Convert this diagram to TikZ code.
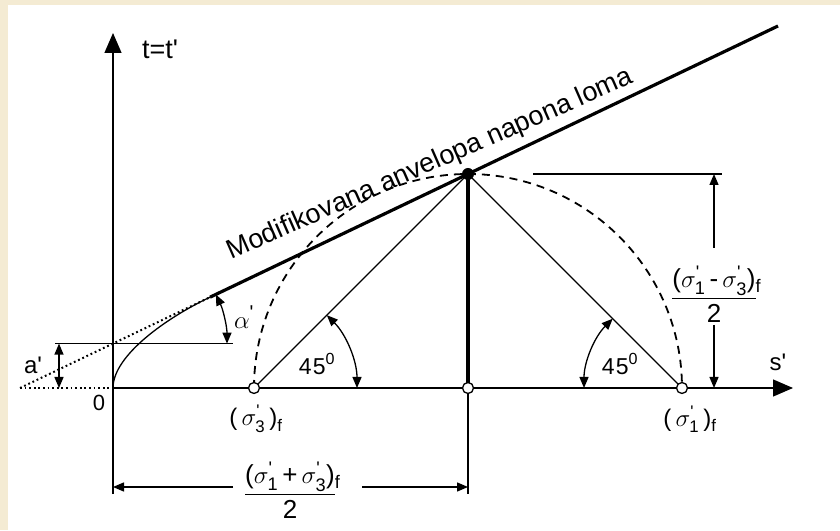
\documentclass[tikz,border=0pt]{standalone}
\usepackage{amsmath}
\usepackage{fontspec}
\setmainfont{Liberation Sans}
\usetikzlibrary{arrows.meta}
\definecolor{cream}{HTML}{F4EBD3}
\newcommand{\sg}[1]{\sigma^{\textnormal{\textquotesingle}}_{\textnormal{#1}}}
\newcommand{\fs}[1]{\fontsize{#1}{#1}\selectfont}
\begin{document}
\begin{tikzpicture}[x=1pt,y=1pt,
  thinl/.style={line width=1.3pt},
  thickl/.style={line width=3.2pt},
  dotl/.style={line width=2pt,dash pattern=on 1.8pt off 2.8pt},
  dashl/.style={line width=1.8pt,dash pattern=on 8pt off 6pt},
  axisarrow/.style={-{Triangle[length=20pt,width=17pt]}},
  dimtip/.style={-{Triangle[length=11pt,width=9pt]}},
  dimboth/.style={{Triangle[length=11pt,width=9pt]}-{Triangle[length=11pt,width=9pt]}},
  opendot/.style={circle,draw,fill=white,inner sep=0pt,minimum size=11pt,line width=1.3pt},
  fulldot/.style={circle,fill=black,inner sep=0pt,minimum size=12pt},
  lbl/.style={inner sep=0pt}]
% background
\useasboundingbox (0,0) rectangle (840,530);
\fill[white] (0,0) rectangle (840,530);
\fill[cream] (0,0) rectangle (8,530);
\fill[cream] (0,525) rectangle (840,530);
% coordinates
\coordinate (O) at (113,142);
\coordinate (Ybot) at (113,36);
\coordinate (Ytop) at (113,497);
\coordinate (Xend) at (793,142);
\coordinate (Xdot) at (20,142);
\coordinate (S3) at (254,142);
\coordinate (C) at (468,142);
\coordinate (S1) at (682,142);
\coordinate (T) at (468,356);
\coordinate (Cbot) at (468,36);
\coordinate (J) at (210,232.8);
\coordinate (E) at (778,504);
\coordinate (A) at (113,186.4);
\coordinate (Hl) at (55,186.4);
\coordinate (Hr) at (233,186.4);
\coordinate (Ad1) at (59,186.4);
\coordinate (Ad2) at (59,142);
\coordinate (AlA) at (227,186.4);
\coordinate (L45) at (357,142);
\coordinate (R45) at (584,142);
\coordinate (Rh1) at (533,356);
\coordinate (Rh2) at (722,356);
\coordinate (Rv1) at (714,282);
\coordinate (Rv2) at (714,356);
\coordinate (Rv3) at (714,205);
\coordinate (Rv4) at (714,142);
\coordinate (Bl1) at (233,43);
\coordinate (Bl2) at (113,43);
\coordinate (Br1) at (362,43);
\coordinate (Br2) at (468,43);
% axes
\draw[thinl,axisarrow] (Ybot) -- (Ytop);
\draw[thinl,axisarrow] (O) -- (Xend);
\draw[dotl] (Xdot) -- (O);
% envelope
\draw[dotl] (Xdot) -- (J);
\draw[thickl] (J) -- (E);
\draw[thinl] (O) .. controls (113,175) and (168,213) .. (J);
% a' level
\draw[thinl] (Hl) -- (Hr);
\draw[thinl,dimboth] (Ad1) -- (Ad2);
\draw[thinl,dimboth] (AlA) arc[start angle=0,end angle=25.53,radius=114];
% circle
\draw[dashl] (S3) arc[start angle=180,end angle=0,radius=214];
\draw[thinl] (S3) -- (T) -- (S1);
\draw[thickl] (T) -- (C);
\draw[thinl] (C) -- (Cbot);
% 45 arcs
\draw[thinl,dimboth] (L45) arc[start angle=0,end angle=45,radius=103];
\draw[thinl,dimboth] (R45) arc[start angle=180,end angle=135,radius=98];
% right dimension
\draw[thinl] (Rh1) -- (Rh2);
\draw[thinl,dimtip] (Rv1) -- (Rv2);
\draw[thinl,dimtip] (Rv3) -- (Rv4);
% bottom dimension
\draw[thinl,dimtip] (Bl1) -- (Bl2);
\draw[thinl,dimtip] (Br1) -- (Br2);
% markers
\node[fulldot] (Tdot) at (T) {};
\node[opendot] (S3dot) at (S3) {};
\node[opendot] (Cdot) at (C) {};
\node[opendot] (S1dot) at (S1) {};
% labels
\node[lbl,font=\fs{27}] (tlab) at (160,481) {t=t\textquotesingle};
\node[lbl,font=\fs{24}] (slab) at (778,168) {s\textquotesingle};
\node[lbl,font=\fs{22}] (zero) at (99,127) {0};
\node[lbl,font=\fs{24}] (alab) at (33,165) {a\textquotesingle};
\node[lbl,font=\fs{28}] (alpha) at (244,213) {$\alpha^{\textnormal{\fs{20}\textquotesingle}}$};
\node[lbl,font=\fs{23}] (l45) at (317,166) {4\kern1pt5\textsuperscript{0}};
\node[lbl,font=\fs{23}] (r45) at (620,166) {4\kern1pt5\textsuperscript{0}};
\node[lbl,font=\fs{24}] (s3lab) at (256,111) {$\textnormal{(}\,\sg{3}\,\textnormal{)}_{\textnormal{f}}$};
\node[lbl,font=\fs{24}] (s1lab) at (690,111) {$\textnormal{(}\,\sg{1}\,\textnormal{)}_{\textnormal{f}}$};
\node[lbl,font=\fs{26}] (fracR) at (714,236) {$\dfrac{\textnormal{(}\sg{1}\,\textnormal{-}\,\sg{3}\textnormal{)}\rlap{$_{\textnormal{f}}$}}{\textnormal{2}}$};
\node[lbl,font=\fs{26}] (fracB) at (290,40) {$\dfrac{\textnormal{(}\sg{1}\,\textnormal{+}\,\sg{3}\textnormal{)}\rlap{$_{\textnormal{f}}$}}{\textnormal{2}}$};
\node[lbl,font=\fs{27},rotate=23.7,anchor=base] (env) at (433,359) {Modifikovana anvelopa napona loma};
\end{tikzpicture}
\end{document}
